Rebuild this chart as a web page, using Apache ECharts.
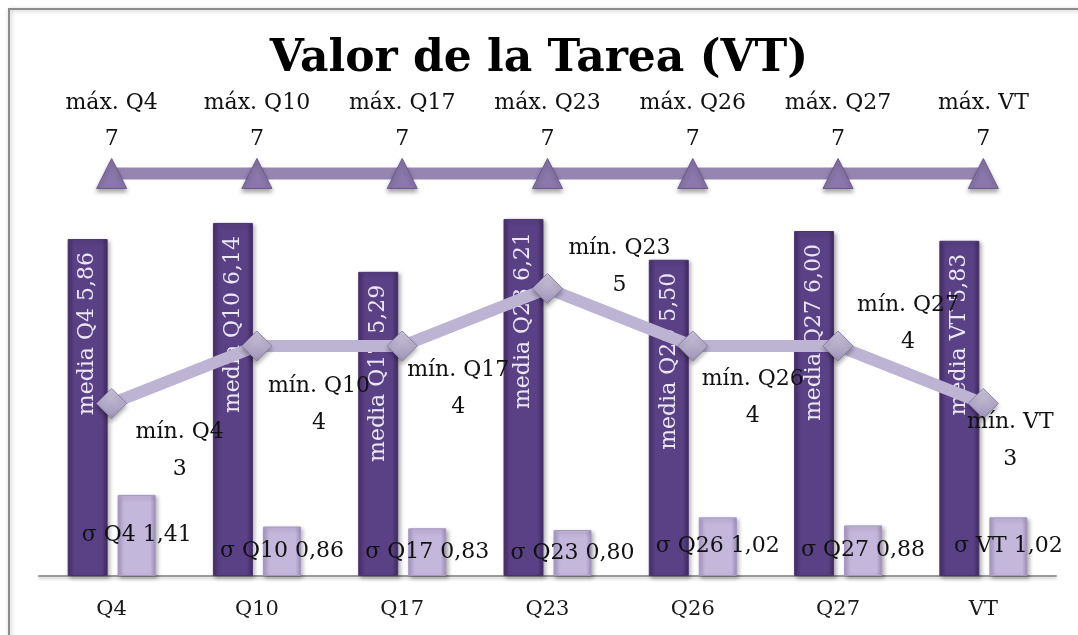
<!DOCTYPE html>
<html>
<head>
<meta charset="utf-8">
<title>Valor de la Tarea (VT)</title>
<script src="https://cdn.jsdelivr.net/npm/echarts@6/dist/echarts.min.js"></script>
<style>
  html, body { margin: 0; padding: 0; background: #fff; }
  #chart { width: 1078px; height: 635px; }
</style>
</head>
<body>
<div id="chart"></div>
<script>
  // datos
  var categories = ['Q4', 'Q10', 'Q17', 'Q23', 'Q26', 'Q27', 'VT'];
  var mediaValues = [5.86, 6.14, 5.29, 6.21, 5.50, 6.00, 5.83];
  var sigmaValues = [1.41, 0.86, 0.83, 0.80, 1.02, 0.88, 1.02];
  var maxValues = [7, 7, 7, 7, 7, 7, 7];
  var minValues = [3, 4, 4, 5, 4, 4, 3];

  // desplazamiento de las etiquetas "mín." (como en el original, colocadas a mano)
  var minLabelShift = [[68, 47], [62, 59], [56, 43], [72, -22], [60, 52], [70, -22], [27, 37]];

  var FONT = 'DejaVu Serif';

  function fmt(v) {
    return v.toFixed(2).replace('.', ',');
  }

  var chart = echarts.init(document.getElementById('chart'));

  var minData = minValues.map(function (v, i) {
    return {
      value: v,
      label: { offset: minLabelShift[i] }
    };
  });

  var option = {
    backgroundColor: '#ffffff',
    animation: false,
    title: {
      text: 'Valor de la Tarea (VT)',
      left: 'center',
      top: 33,
      textStyle: {
        fontFamily: FONT,
        fontWeight: 'bold',
        fontSize: 44,
        color: '#000'
      }
    },
    graphic: [{
      type: 'rect',
      z: -1,
      shape: { x: 9, y: 9, width: 1200, height: 800 },
      style: {
        fill: 'none',
        stroke: '#8c8c8c',
        lineWidth: 2,
        shadowBlur: 4,
        shadowColor: 'rgba(0,0,0,0.25)',
        shadowOffsetX: 1,
        shadowOffsetY: 1
      }
    }],
    grid: {
      left: 39,
      right: 22,
      top: 116,
      bottom: 59
    },
    xAxis: {
      type: 'category',
      data: categories,
      axisLine: {
        lineStyle: { color: '#9a9a9a', width: 2, shadowBlur: 3, shadowColor: 'rgba(0,0,0,0.2)', shadowOffsetY: 2 }
      },
      axisTick: { show: false },
      axisLabel: {
        fontFamily: FONT,
        fontSize: 21,
        color: '#1a1a1a',
        margin: 23
      }
    },
    yAxis: {
      type: 'value',
      min: 0,
      max: 8,
      show: false,
      splitLine: { show: false }
    },
    series: [
      {
        name: 'media',
        type: 'bar',
        barWidth: 40,
        barGap: '25%',
        data: mediaValues,
        itemStyle: {
          color: new echarts.graphic.LinearGradient(0, 0, 1, 0, [
            { offset: 0, color: '#452f67' },
            { offset: 0.15, color: '#5a4085' },
            { offset: 0.85, color: '#5a4085' },
            { offset: 1, color: '#3d2a5c' }
          ]),
          borderColor: '#4a3470',
          borderWidth: 1,
          shadowBlur: 4,
          shadowColor: 'rgba(0,0,0,0.3)',
          shadowOffsetX: 2,
          shadowOffsetY: 2
        },
        label: {
          show: true,
          position: 'insideTop',
          rotate: 90,
          align: 'right',
          verticalAlign: 'middle',
          distance: 13,
          fontFamily: FONT,
          fontSize: 22,
          color: '#ece6f5',
          formatter: function (p) {
            return 'media ' + p.name + ' ' + fmt(p.value);
          }
        }
      },
      {
        name: 'σ',
        type: 'bar',
        barWidth: 38,
        data: sigmaValues,
        itemStyle: {
          color: new echarts.graphic.LinearGradient(0, 0, 1, 0, [
            { offset: 0, color: '#a898c5' },
            { offset: 0.15, color: '#c4b7dc' },
            { offset: 0.85, color: '#c4b7dc' },
            { offset: 1, color: '#9f8fbd' }
          ]),
          borderColor: '#a596c2',
          borderWidth: 1,
          shadowBlur: 4,
          shadowColor: 'rgba(0,0,0,0.3)',
          shadowOffsetX: 2,
          shadowOffsetY: 2
        },
        label: {
          show: true,
          position: 'inside',
          fontFamily: FONT,
          fontSize: 22,
          color: '#111',
          formatter: function (p) {
            return 'σ ' + p.name + ' ' + fmt(p.value);
          }
        }
      },
      {
        name: 'máx.',
        type: 'line',
        data: maxValues,
        symbol: 'triangle',
        symbolSize: [30, 30],
        lineStyle: { color: '#9684b1', width: 12 },
        itemStyle: {
          color: '#8a77ab',
          borderColor: '#6c5a8e',
          borderWidth: 1,
          shadowBlur: 4,
          shadowColor: 'rgba(0,0,0,0.35)',
          shadowOffsetY: 3
        },
        z: 3,
        label: {
          show: true,
          position: 'top',
          distance: 1,
          fontFamily: FONT,
          fontSize: 22,
          lineHeight: 36,
          color: '#111',
          formatter: function (p) {
            return 'máx. ' + p.name + '\n' + p.value;
          }
        }
      },
      {
        name: 'mín.',
        type: 'line',
        data: minData,
        symbol: 'diamond',
        symbolSize: [30, 30],
        lineStyle: { color: '#bdb4d3', width: 12 },
        itemStyle: {
          color: new echarts.graphic.LinearGradient(0, 0, 0, 1, [
            { offset: 0, color: '#cfc8de' },
            { offset: 1, color: '#9d92b6' }
          ]),
          borderColor: '#8d83a7',
          borderWidth: 1,
          shadowBlur: 4,
          shadowColor: 'rgba(0,0,0,0.3)',
          shadowOffsetY: 3
        },
        z: 4,
        label: {
          show: true,
          position: 'inside',
          fontFamily: FONT,
          fontSize: 22,
          lineHeight: 37,
          color: '#111',
          formatter: function (p) {
            return 'mín. ' + p.name + '\n' + p.value;
          }
        }
      }
    ]
  };

  chart.setOption(option);
  window.addEventListener('resize', function () {
    chart.resize();
  });
</script>
</body>
</html>
